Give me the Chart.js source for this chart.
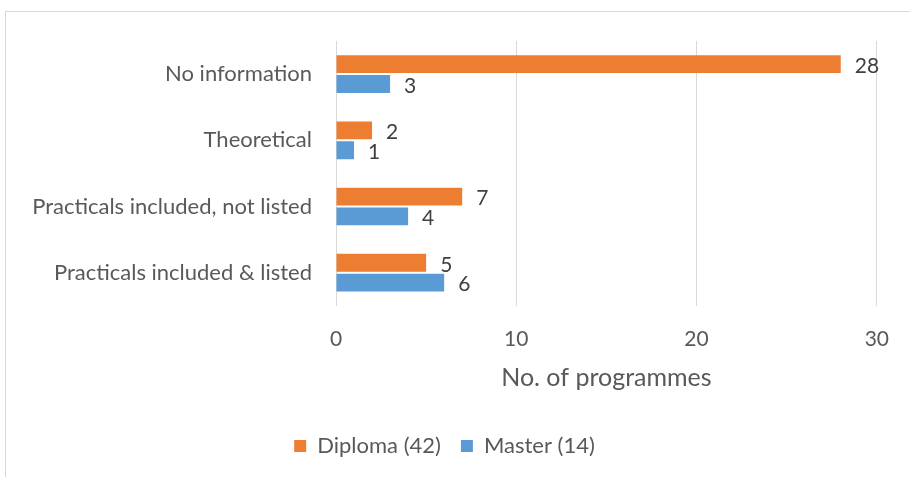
<!DOCTYPE html>
<html>
<head>
<meta charset="utf-8">
<script src="https://cdn.jsdelivr.net/npm/chart.js@4"></script>
<style>
  html, body { margin: 0; padding: 0; background: #fff; }
  #wrap { position: relative; width: 910px; height: 477px; overflow: hidden; }
  #frame { position: absolute; left: 5px; top: 11px; width: 920px; height: 480px; border: 1px solid #d9d9d9; box-sizing: border-box; }
  #programmeChart { position: absolute; left: 0; top: 0; }
</style>
</head>
<body>
<div id="wrap">
  <div id="frame"></div>
  <canvas id="programmeChart" width="910" height="477"></canvas>
</div>
<script>
const categories = ['No information', 'Theoretical', 'Practicals included, not listed', 'Practicals included & listed'];
const diplomaCounts = [28, 2, 7, 5];
const masterCounts = [3, 1, 4, 6];
const seriesNames = ['Diploma (42)', 'Master (14)'];
const xTicks = [0, 10, 20, 30];

const textColor = '#595959';
const fontFamily = 'Lato, "Open Sans", sans-serif';

// value labels next to the end of each bar
const barValueLabels = {
    id: 'barValueLabels',
    afterDatasetsDraw(chart) {
        const ctx = chart.ctx;
        ctx.save();
        ctx.font = '21px ' + fontFamily;
        ctx.fillStyle = '#404040';
        ctx.textAlign = 'left';
        ctx.textBaseline = 'middle';
        chart.data.datasets.forEach((ds, i) => {
            chart.getDatasetMeta(i).data.forEach((bar, j) => {
                ctx.fillText(String(ds.data[j]), bar.x + 14, bar.y + 2);
            });
        });
        ctx.restore();
    }
};

new Chart(document.getElementById('programmeChart').getContext('2d'), {
    type: 'bar',
    data: {
        labels: categories,
        datasets: [
            { label: seriesNames[0], data: diplomaCounts, backgroundColor: '#ED7D31' },
            { label: seriesNames[1], data: masterCounts, backgroundColor: '#5B9BD5' }
        ]
    },
    options: {
        indexAxis: 'y',
        responsive: false,
        animation: false,
        datasets: { bar: { categoryPercentage: 0.6, barPercentage: 0.9 } },
        layout: { padding: { top: 41, right: 31, left: 10, bottom: 10 } },
        scales: {
            x: {
                min: 0, max: 30,
                afterBuildTicks: axis => { axis.ticks = xTicks.map(v => ({ value: v })); },
                grid: { color: '#d9d9d9', drawTicks: false },
                border: { display: false },
                ticks: { color: textColor, padding: 21, font: { family: fontFamily, size: 21 } },
                title: { display: true, text: 'No. of programmes', color: textColor, padding: { top: -10, bottom: 22 }, font: { family: fontFamily, size: 25 } }
            },
            y: {
                grid: { display: false },
                border: { display: false },
                ticks: { color: textColor, padding: 16, font: { family: fontFamily, size: 22 } },
                afterFit: axis => { axis.width = 326; }
            }
        },
        plugins: {
            legend: {
                position: 'bottom',
                labels: {
                    color: textColor, boxWidth: 12, boxHeight: 12, padding: 20,
                    font: { family: fontFamily, size: 22 }
                }
            },
            tooltip: { enabled: false }
        }
    },
    plugins: [barValueLabels]
});
</script>
</body>
</html>
